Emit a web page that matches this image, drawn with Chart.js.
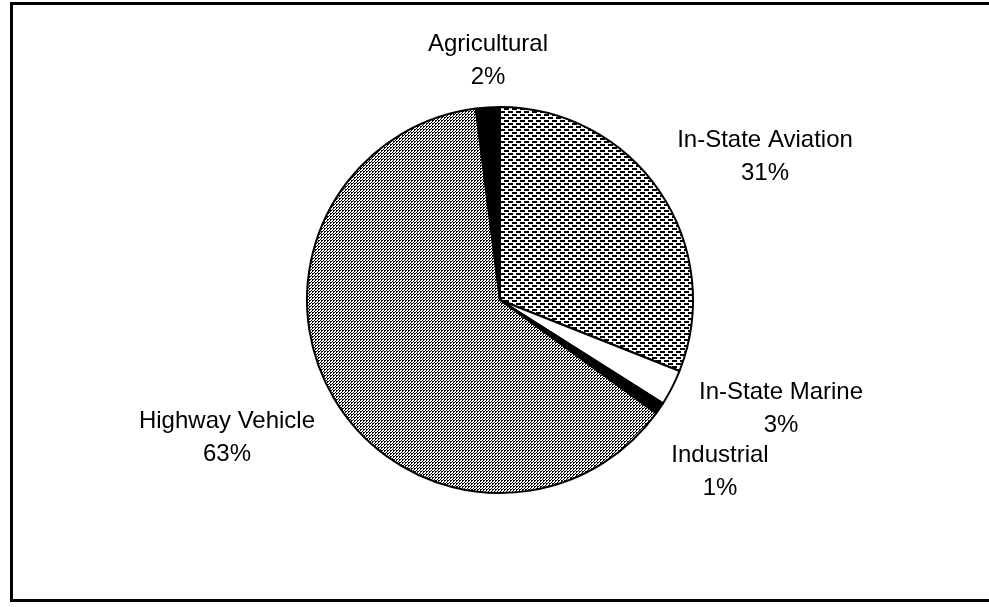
<!DOCTYPE html>
<html>
<head>
<meta charset="utf-8">
<script src="https://cdn.jsdelivr.net/npm/chart.js@4/dist/chart.umd.min.js"></script>
<style>
  html, body { margin: 0; padding: 0; background: #fff; overflow: hidden; }
  .frame {
    position: absolute; left: 10px; top: 2px;
    width: 1000px; height: 594px;
    border: 3px solid #000;
  }
  #chart { position: absolute; left: 0; top: 0; }
</style>
</head>
<body>
<div class="frame"></div>
<canvas id="chart" width="989" height="607"></canvas>
<script>
// slices, clockwise from 12 o'clock
const categories = ['In-State Aviation', 'In-State Marine', 'Industrial', 'Highway Vehicle', 'Agricultural'];
const shares = [31, 3, 1, 63, 2];

// where each label block sits, relative to the pie centre (px)
const labelOffsets = [[265, -144], [281, 108], [220, 171], [-273, 137], [-12, -240]];

function makePattern(w, h, dots) {
  const c = document.createElement('canvas');
  c.width = w; c.height = h;
  const g = c.getContext('2d');
  g.fillStyle = '#fff';
  g.fillRect(0, 0, w, h);
  g.fillStyle = '#000';
  dots.forEach(d => g.fillRect(d[0], d[1], d[2], d[3]));
  return g.createPattern(c, 'repeat');
}

const ctx = document.getElementById('chart').getContext('2d');

// staggered dashes for aviation, fine dotted grey for highway
const aviationFill = makePattern(8, 6, [[0, 0, 5, 2], [4, 3, 4, 2], [0, 3, 1, 2]]);
const highwayFill = makePattern(3, 3, [[0, 0, 2, 1], [0, 1, 1, 1], [2, 2, 1, 1]]);

const sliceLabels = {
  id: 'sliceLabels',
  afterDatasetsDraw(chart) {
    const c = chart.ctx;
    const arcs = chart.getDatasetMeta(0).data;
    c.save();
    c.font = '24px "Liberation Sans", Arial, sans-serif';
    c.fillStyle = '#000';
    c.textAlign = 'center';
    c.textBaseline = 'middle';
    arcs.forEach((arc, i) => {
      const x = arc.x + labelOffsets[i][0];
      const y = arc.y + labelOffsets[i][1];
      c.fillText(categories[i], x, y - 16);
      c.fillText(shares[i] + '%', x, y + 17);
    });
    c.restore();
  }
};

new Chart(ctx, {
  type: 'pie',
  data: {
    labels: categories,
    datasets: [{
      data: shares,
      backgroundColor: [aviationFill, '#fff', '#000', highwayFill, '#000'],
      borderColor: '#000',
      borderWidth: 2
    }]
  },
  options: {
    responsive: false,
    animation: false,
    layout: { padding: { top: 106, bottom: 113, left: 100, right: 89 } },
    plugins: {
      legend: { display: false },
      tooltip: { enabled: false }
    }
  },
  plugins: [sliceLabels]
});
</script>
</body>
</html>
